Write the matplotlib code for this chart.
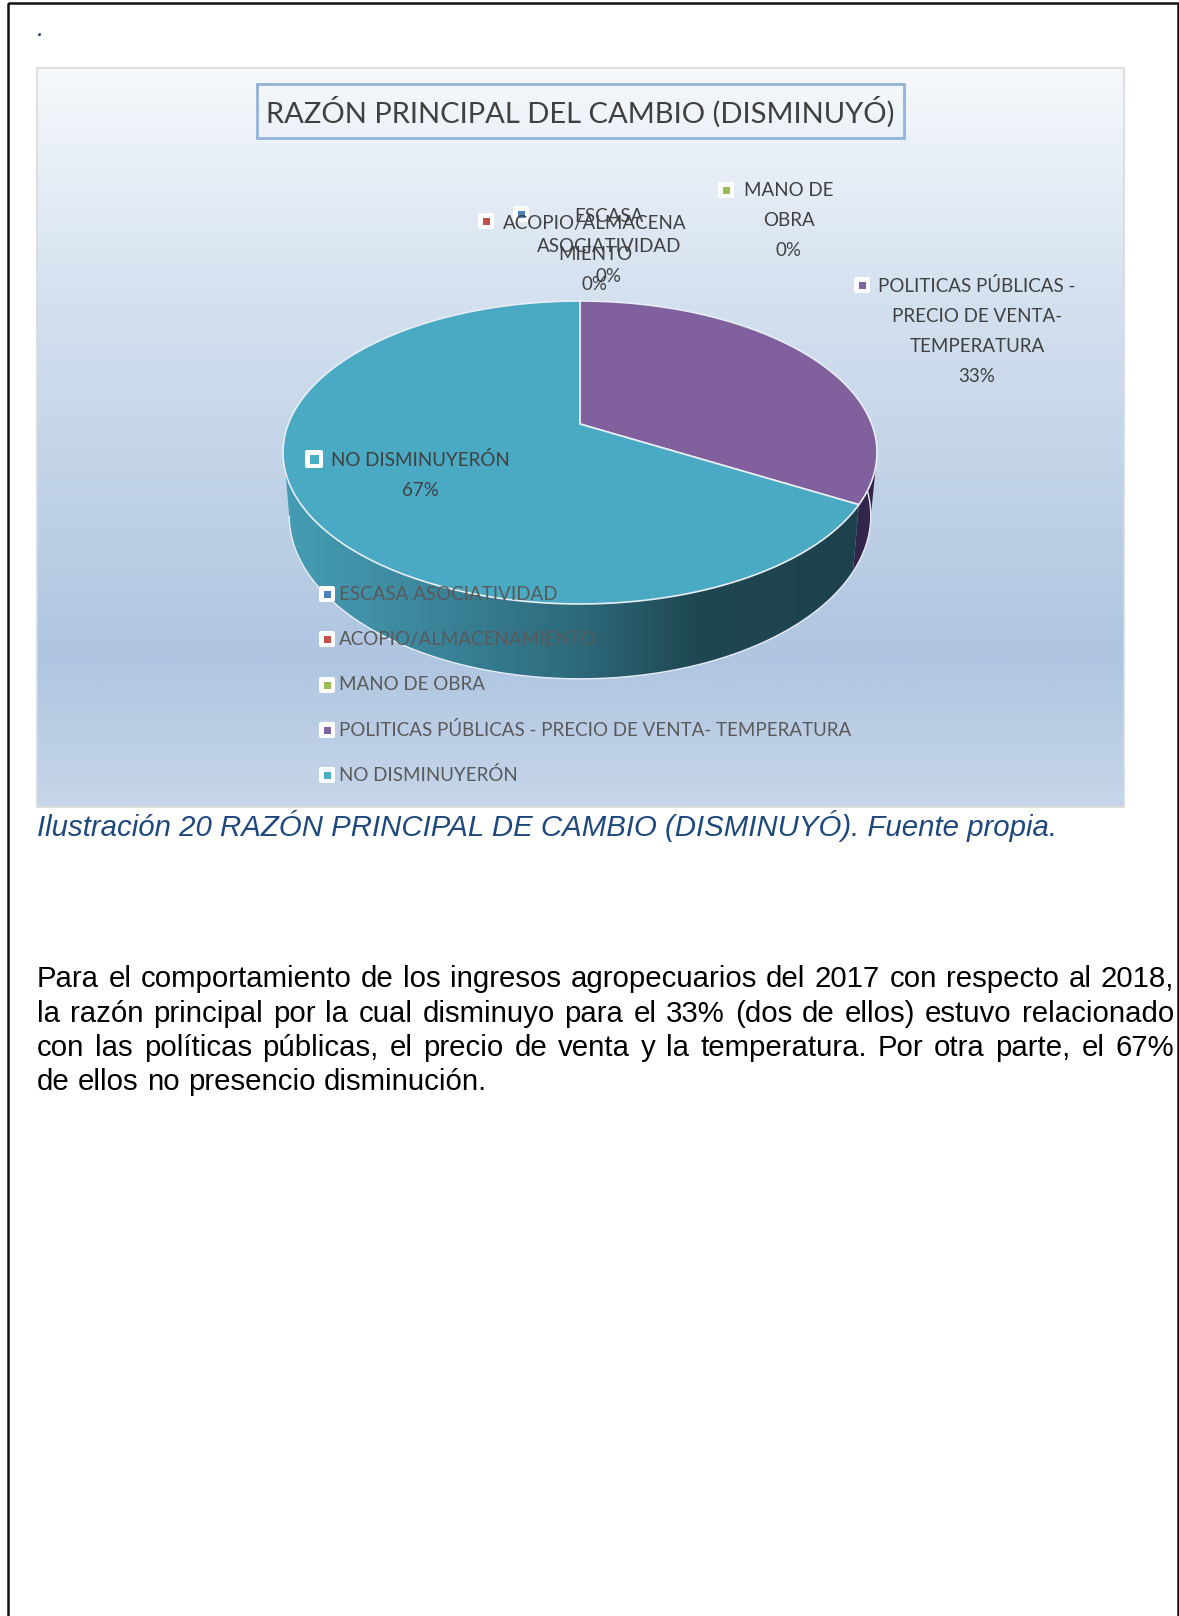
import numpy as np
import matplotlib
matplotlib.use('Agg')
import matplotlib.pyplot as plt
from matplotlib.colors import LinearSegmentedColormap
from matplotlib.patches import Polygon, Rectangle, FancyBboxPatch

# Datos del grafico (2 de 6 personas, el resto no disminuyo)
categorias = ['ESCASA ASOCIATIVIDAD', 'ACOPIO/ALMACENAMIENTO', 'MANO DE OBRA',
              'POLITICAS PÚBLICAS - PRECIO DE VENTA- TEMPERATURA', 'NO DISMINUYERÓN']
valores = [0, 0, 0, 2, 4]
colores = ['#4f81bd', '#c0504d', '#9bbb59', '#8064a2', '#4bacc6']
colores_cara = ['#4f81bd', '#c0504d', '#9bbb59', '#80619d', '#4aa9c3']

etiquetas = [['ESCASA', 'ASOCIATIVIDAD'], ['ACOPIO/ALMACENA', 'MIENTO'], ['MANO DE', 'OBRA'],
             ['POLITICAS PÚBLICAS -', 'PRECIO DE VENTA-', 'TEMPERATURA'], ['NO DISMINUYERÓN']]

titulo = 'RAZÓN PRINCIPAL DEL CAMBIO (DISMINUYÓ)'
leyenda_pie = 'Ilustración 20 RAZÓN PRINCIPAL DE CAMBIO (DISMINUYÓ). Fuente propia.'
parrafo = ['Para el comportamiento de los ingresos agropecuarios del 2017 con respecto al 2018,',
           'la razón principal por la cual disminuyo para el 33% (dos de ellos) estuvo relacionado',
           'con las políticas públicas, el precio de venta y la temperatura. Por otra parte, el 67%',
           'de ellos no presencio disminución.']

# Disposicion en pixeles: (x centro, y primera linea, x marca, y marca)
pos_etiquetas = [(609, 217, 521, 214), (595, 224, 486, 221), (789, 190, 726, 190),
                 (977, 286, 862, 285), (420, 460, 314, 459)]
y_leyenda = [594, 639, 685, 730, 775]
fuente = 'Lato'
tam_etiqueta = 13.5

fig = plt.figure(figsize=(11.79, 16.16), dpi=100)
ax = fig.add_axes([0, 0, 1, 1])
ax.set_xlim(0, 1179)
ax.set_ylim(1616, 0)
ax.axis('off')

# Fondo degradado del grafico
fondo = LinearSegmentedColormap.from_list('fondo', [(0, '#f6f9fc'), (0.32, '#d3e0ef'), (0.80, '#afc5e0'), (1, '#c6d6ea')])
ax.imshow(np.linspace(0, 1, 400).reshape(-1, 1), cmap=fondo, extent=(37, 1124, 807, 68), aspect='auto', zorder=1)
ax.set_xlim(0, 1179)
ax.set_ylim(1616, 0)
ax.add_patch(Rectangle((37, 68), 1087, 739, fill=False, ec='#d9d9d9', lw=1.2, zorder=2))


# Disco en perspectiva: angulo medido en sentido horario desde arriba
def disco(theta, k, a, b, c=0.188, cx=580):
    u, v = np.sin(theta), np.cos(theta)
    d = 1 + c * v
    return cx + k * u / d, (a * v + b) / d


def arriba(theta):
    return disco(theta, 291.7, -66.4, 424)


def abajo(theta):
    return disco(theta, 285.6, -66.2, 485)


def costado(t0, t1, b0, b1):
    x1, y1 = arriba(np.linspace(t0, t1, 120))
    x2, y2 = abajo(np.linspace(b1, b0, 120))
    return np.column_stack([np.r_[x1, x2], np.r_[y1, y2]])


angulos = np.cumsum([0] + valores) / sum(valores) * 2 * np.pi
izq_arriba, izq_abajo = np.deg2rad(252), np.deg2rad(259)  # borde izquierdo visible
der_arriba, der_abajo = np.deg2rad(105), np.deg2rad(101)  # borde derecho visible

# Costados: violeta oscuro y azul con degradado
ax.add_patch(Polygon(costado(der_arriba, angulos[4], der_abajo, angulos[4]), fc='#33244a', ec='none', zorder=3))
lado = Polygon(costado(angulos[4], izq_arriba, angulos[4], izq_abajo), fc='none', ec='none', zorder=3)
ax.add_patch(lado)
degradado = LinearSegmentedColormap.from_list('lado', [(0, '#459db3'), (0.2, '#3e8ba1'), (0.5, '#2e6b7d'), (0.72, '#1f4752'), (1, '#1d424d')])
img = ax.imshow(np.linspace(0, 1, 300).reshape(1, -1), cmap=degradado, extent=(283, 860, 690, 450), aspect='auto', zorder=3)
img.set_clip_path(lado)
ax.set_xlim(0, 1179)
ax.set_ylim(1616, 0)
x, y = abajo(np.linspace(angulos[3] - np.deg2rad(22), izq_abajo, 200))
ax.plot(x, y, color='#e6edf5', lw=1, zorder=3)

# Cara superior de cada porcion
for i in range(len(valores)):
    if valores[i] == 0:
        continue
    t = np.linspace(angulos[i], angulos[i + 1], 200)
    x, y = arriba(t)
    cara = np.column_stack([np.r_[580, x], np.r_[424, y]])
    ax.add_patch(Polygon(cara, fc=colores_cara[i], ec='#e8eef5', lw=1.2, zorder=4))


# Marca blanca con un cuadrado de color
def marca(x, y, color, lado_blanco=16, lado_color=8):
    m = lado_blanco / 2
    ax.add_patch(FancyBboxPatch((x - m + 2, y - m + 2), lado_blanco - 4, lado_blanco - 4, boxstyle='round,pad=2',
                                fc='white', ec='none', zorder=5))
    ax.add_patch(Rectangle((x - lado_color / 2, y - lado_color / 2), lado_color, lado_color, fc=color, ec='none', zorder=6))


# Etiquetas de datos con porcentaje
for i in range(len(valores)):
    cx, y0, mx, my = pos_etiquetas[i]
    lineas = etiquetas[i] + ['%d%%' % round(100 * valores[i] / sum(valores))]
    for n, linea in enumerate(lineas):
        ax.text(cx, y0 + n * 30, linea, ha='center', va='center', fontsize=tam_etiqueta, family=fuente, color='#404040', zorder=7)
    marca(mx, my, colores[i], 16 if i != 4 else 18, 7 if i != 4 else 9)

# Leyenda
for i in range(len(categorias)):
    marca(327, y_leyenda[i], colores[i], 16, 7)
    ax.text(339, y_leyenda[i], categorias[i], ha='left', va='center', fontsize=tam_etiqueta, family=fuente, color='#595959', zorder=7)

# Titulo con recuadro
ax.add_patch(Rectangle((257, 84), 647, 54, fill=False, ec='#94b3d8', lw=2, zorder=5))
ax.text(580.5, 112, titulo, ha='center', va='center', fontsize=21, family=fuente, color='#404040', zorder=6)

# Textos fuera del grafico
ax.text(37, 29, '.', style='italic', family='Liberation Sans', fontsize=19, color='#1f497d', va='center')
ax.text(37, 826, leyenda_pie, style='italic', family='Liberation Sans', fontsize=21.2, color='#1f497d', va='center')


# Parrafo justificado: se reparte el espacio entre palabras
def linea_justificada(linea, y, x0=37, x1=1174, justificar=True):
    palabras = linea.split(' ')
    rend = fig.canvas.get_renderer()
    objs = [ax.text(0, y, p, family='Liberation Sans', fontsize=21.2, color='black', va='center') for p in palabras]
    anchos = [o.get_window_extent(rend).width for o in objs]
    esp = (x1 - x0 - sum(anchos)) / (len(palabras) - 1) if justificar else 8.2
    x = x0
    for o, w in zip(objs, anchos):
        o.set_x(x)
        x += w + esp


for n, linea in enumerate(parrafo):
    linea_justificada(linea, 979 + n * 34.5, justificar=n < 3)

# Marco negro de la pagina
ax.add_patch(Rectangle((8, 3), 1170, 1640, fill=False, ec='#111111', lw=1.8, zorder=8))

fig.savefig('out.png', dpi=100)
